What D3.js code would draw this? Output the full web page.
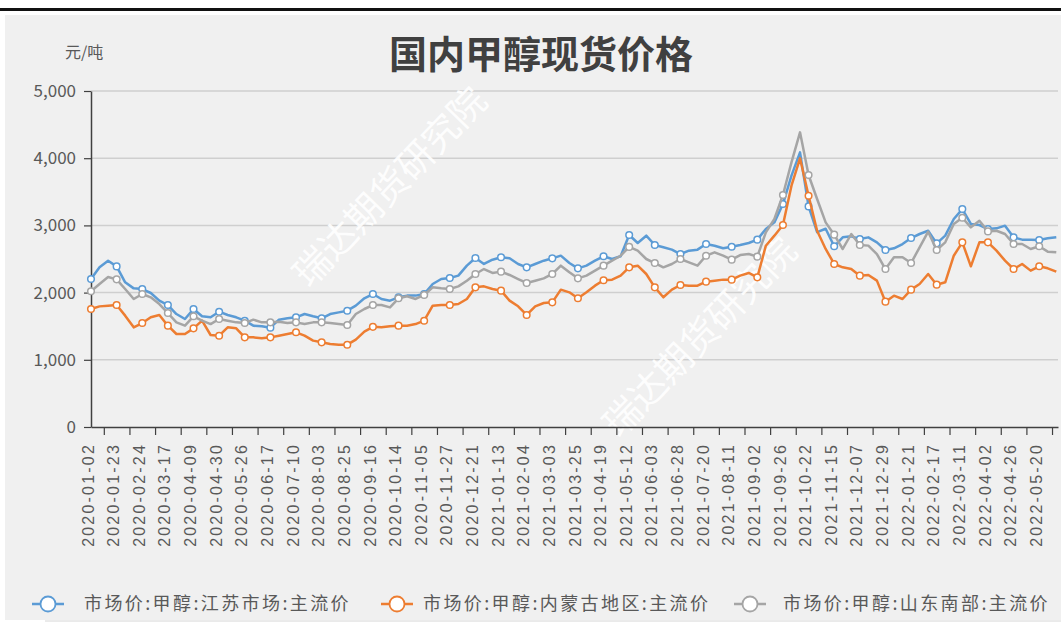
<!DOCTYPE html>
<html>
<head>
<meta charset="utf-8">
<script src="https://cdn.jsdelivr.net/npm/d3@7"></script>
<style>
  body { margin: 0; background: #fff; }
  text { font-family: "Liberation Sans", "Noto Sans CJK SC", sans-serif; }
</style>
</head>
<body>
<svg id="chart"></svg>
<script>
// tick labels (every 15 trading days)
const tickDates = [
  "2020-01-02","2020-01-23","2020-02-24","2020-03-17","2020-04-09","2020-04-30",
  "2020-05-26","2020-06-17","2020-07-10","2020-08-03","2020-08-25","2020-09-16",
  "2020-10-14","2020-11-05","2020-11-27","2020-12-21","2021-01-13","2021-02-04",
  "2021-03-03","2021-03-25","2021-04-19","2021-05-12","2021-06-03","2021-06-28",
  "2021-07-20","2021-08-11","2021-09-02","2021-09-26","2021-10-22","2021-11-15",
  "2021-12-07","2021-12-29","2022-01-21","2022-02-17","2022-03-11","2022-04-02",
  "2022-04-26","2022-05-20"
];
const tickEvery = 15;   // trading days between labels
const sampleStep = 5;   // values below are read every 5 trading days
const lastIndex = 566;

const seriesNames = [
  "市场价:甲醇:江苏市场:主流价",
  "市场价:甲醇:内蒙古地区:主流价",
  "市场价:甲醇:山东南部:主流价"
];
const seriesColors = ["#5b9bd5", "#ed7d31", "#a5a5a5"];

// 元/吨
const jiangsu = [
  2202,2376,2475,2390,2153,2063,2053,1994,1880,1815,1681,1607,1756,1647,1632,1716,
  1667,1632,1582,1508,1498,1478,1597,1617,1632,1681,1647,1617,1681,1706,1731,1806,
  1915,1979,1905,1880,1930,1955,1955,1979,2128,2202,2218,2252,2401,2515,2426,2490,
  2525,2510,2426,2376,2426,2475,2510,2550,2440,2361,2401,2475,2540,2500,2540,2857,
  2738,2847,2708,2674,2639,2574,2624,2639,2723,2698,2659,2683,2708,2738,2788,2946,
  3045,3318,3740,4087,3283,2900,2950,2689,2822,2837,2797,2822,2748,2634,2659,2723,
  2812,2872,2921,2733,2847,3095,3243,3021,3006,2946,2956,2996,2822,2788,2788,2783,
  2808,2822
];
const neimenggu = [
  1756,1795,1805,1815,1657,1483,1547,1632,1667,1508,1384,1384,1468,1582,1369,1359,
  1483,1468,1334,1334,1319,1334,1359,1384,1409,1359,1285,1260,1235,1225,1225,1300,
  1420,1490,1483,1498,1508,1508,1532,1582,1806,1815,1815,1830,1905,2078,2093,2053,
  2029,1880,1796,1667,1796,1845,1855,2044,2004,1915,2004,2103,2183,2193,2252,2376,
  2401,2277,2078,1930,2044,2113,2103,2103,2163,2178,2193,2193,2252,2292,2227,2698,
  2847,3006,3591,3998,3442,2920,2650,2426,2376,2351,2252,2262,2178,1865,1954,1905,
  2044,2128,2277,2118,2153,2549,2748,2391,2748,2748,2624,2475,2351,2426,2327,2391,
  2361,2312
];
const shandong = [
  2019,2128,2232,2197,2053,1905,1979,1930,1830,1696,1557,1508,1647,1582,1532,1607,
  1582,1557,1547,1597,1557,1557,1567,1547,1557,1532,1557,1557,1547,1532,1518,1681,
  1756,1815,1815,1780,1915,1945,1905,1965,2078,2063,2053,2093,2177,2277,2351,2292,
  2312,2262,2202,2143,2177,2212,2277,2401,2302,2212,2252,2326,2401,2475,2549,2680,
  2624,2500,2440,2376,2426,2500,2450,2401,2549,2599,2549,2490,2559,2574,2535,2897,
  3095,3452,3938,4385,3750,3393,3045,2862,2649,2872,2708,2699,2574,2351,2525,2525,
  2440,2674,2906,2634,2748,3021,3114,2971,3070,2911,2921,2872,2723,2723,2649,2689,
  2609,2599
];
const yTicks = [0, 1000, 2000, 3000, 4000, 5000];

const W = 1061, H = 641;
const plot = { left: 91, right: 1058, top: 91, bottom: 427 };

const svg = d3.select("#chart").attr("width", W).attr("height", H);

// frame
svg.append("rect").attr("x", 5).attr("y", 15).attr("width", W - 5).attr("height", 605)
  .attr("fill", "#f0f0f0");
svg.append("rect").attr("x", 0).attr("y", 8).attr("width", W).attr("height", 3)
  .attr("fill", "#111");
svg.append("line").attr("x1", 45).attr("x2", W).attr("y1", 621).attr("y2", 621)
  .attr("stroke", "#d6d6d6");

const x = d3.scaleLinear().domain([0, lastIndex]).range([plot.left, plot.right]);
const y = d3.scaleLinear().domain([0, 5000]).range([plot.bottom, plot.top]);

// gridlines
svg.append("g").selectAll("line").data(yTicks.slice(1)).join("line")
  .attr("x1", plot.left).attr("x2", plot.right)
  .attr("y1", d => y(d)).attr("y2", d => y(d))
  .attr("stroke", "#cfcfcf").attr("stroke-width", 1.5);

// watermark
const marks = [{ cx: 390, cy: 187 }, { cx: 700, cy: 337 }];
svg.append("g").selectAll("text").data(marks).join("text")
  .attr("transform", d => `translate(${d.cx},${d.cy}) rotate(-46)`)
  .attr("text-anchor", "middle").attr("dy", "0.35em")
  .style("font-family", "'Noto Sans CJK SC'")
  .attr("font-size", 37).attr("fill", "#fff").attr("opacity", 0.9)
  .text("瑞达期货研究院");

// y axis
const yAxis = svg.append("g").attr("transform", `translate(${plot.left},0)`)
  .call(d3.axisLeft(y).tickValues(yTicks).tickSize(7).tickSizeOuter(0)
    .tickFormat(d3.format(",")));
yAxis.select(".domain").attr("stroke", "#404040").attr("stroke-width", 1.5);
yAxis.selectAll(".tick line").attr("stroke", "#404040").attr("stroke-width", 1.2);
yAxis.selectAll(".tick text").attr("font-size", 17).attr("fill", "#595959")
  .style("font-family", "'Noto Sans CJK SC', 'Liberation Sans'").attr("x", -15);

// x axis ticks (between label positions)
const labelIdx = tickDates.map((d, i) => i * tickEvery);
const xAxis = svg.append("g").attr("transform", `translate(0,${plot.bottom})`)
  .call(d3.axisBottom(x).tickValues(labelIdx.map(i => i + tickEvery / 2))
    .tickSize(8).tickSizeOuter(0).tickFormat(""));
xAxis.select(".domain").attr("stroke", "#404040").attr("stroke-width", 1.5);
xAxis.selectAll(".tick line").attr("stroke", "#404040").attr("stroke-width", 1.2);

svg.append("g").selectAll("text").data(labelIdx).join("text")
  .attr("transform", d => `translate(${x(d) - 3},${plot.bottom + 16}) rotate(-90)`)
  .attr("text-anchor", "end").attr("dy", "0.35em")
  .attr("font-size", 16).attr("letter-spacing", "2.2px").attr("fill", "#595959")
  .text((d, i) => tickDates[i]);

// series
const allSeries = [jiangsu, neimenggu, shandong];
const line = d3.line().x((d, i) => x(i * sampleStep)).y(d => y(d));
allSeries.forEach((vals, s) => {
  svg.append("path").attr("d", line(vals)).attr("fill", "none")
    .attr("stroke", seriesColors[s]).attr("stroke-width", 2.5)
    .attr("stroke-linejoin", "round");
  const pts = vals.map((v, i) => ({ i: i * sampleStep, v }))
    .filter(p => p.i % tickEvery === 0);
  svg.append("g").selectAll("circle").data(pts).join("circle")
    .attr("cx", d => x(d.i)).attr("cy", d => y(d.v)).attr("r", 3.3)
    .attr("fill", "#fff").attr("stroke", seriesColors[s]).attr("stroke-width", 1.5);
});

// titles
svg.append("text").attr("x", 541).attr("y", 68).attr("text-anchor", "middle")
  .style("font-family", "'Noto Sans CJK SC'").attr("font-weight", "bold")
  .attr("font-size", 38).attr("fill", "#404040").text("国内甲醇现货价格");
svg.append("text").attr("x", 65).attr("y", 58)
  .style("font-family", "'Noto Sans CJK SC'")
  .attr("font-size", 16).attr("fill", "#595959").text("元/吨");

// legend
const legendX = [48, 397, 750];
const legendTextX = [84, 423, 783];
const lg = svg.append("g").selectAll("g").data(seriesNames).join("g")
  .attr("transform", "translate(0,604)");
lg.append("line").attr("x1", (d, i) => legendX[i] - 16).attr("x2", (d, i) => legendX[i] + 16)
  .attr("stroke", (d, i) => seriesColors[i]).attr("stroke-width", 2.5);
lg.append("circle").attr("cx", (d, i) => legendX[i]).attr("r", 7.5).attr("fill", "#fff")
  .attr("stroke", (d, i) => seriesColors[i]).attr("stroke-width", 1.8);
lg.append("text").attr("x", (d, i) => legendTextX[i]).attr("dy", "0.35em")
  .style("font-family", "'Noto Sans CJK SC'")
  .attr("font-size", 18).attr("letter-spacing", "2.4px").attr("fill", "#595959")
  .text(d => d);
</script>
</body>
</html>
